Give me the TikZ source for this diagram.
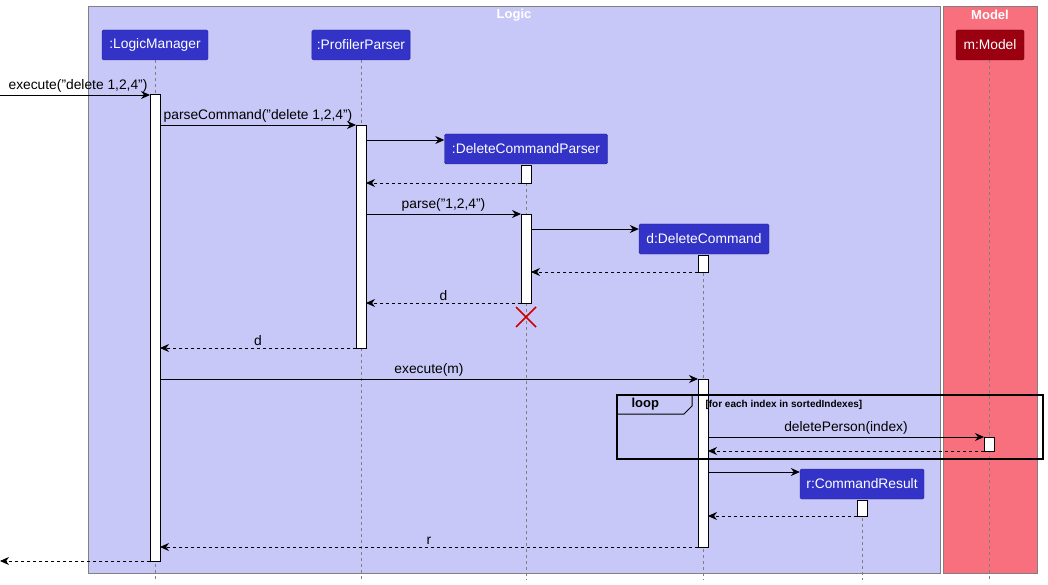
\documentclass[tikz,border=0pt]{standalone}
\usepackage{fontspec}
\setmainfont{Liberation Sans}
\usetikzlibrary{arrows.meta,calc}
\definecolor{logicbg}{HTML}{C8C8F8}
\definecolor{modelbg}{HTML}{F8707E}
\definecolor{part}{HTML}{3333C8}
\definecolor{partm}{HTML}{9A0010}
\begin{document}
\begin{tikzpicture}[x=1pt,y=-1pt,font=\fontsize{13.8}{15}\selectfont,
 part/.style={draw=part!70!black,fill=part,text=white,rounded corners=1.5pt,minimum height=30pt,inner xsep=5pt},
 life/.style={gray,dashed,line width=0.8pt},
 bar/.style={draw=black,fill=white,line width=0.8pt},
 msg/.style={-{Stealth[length=9pt,width=8pt]},line width=0.8pt},
 ret/.style={-{Stealth[length=9pt,width=8pt]},line width=0.8pt,dashed},
 lbl/.style={above,inner sep=2pt}]
\useasboundingbox (0,0) rectangle (1048,585);
\fill[logicbg] (88,6) rectangle (940,573);
\draw[gray] (88,6) rectangle (940,573);
\fill[modelbg] (943,6) rectangle (1037,573);
\draw[gray] (943,6) rectangle (1037,573);
\node[text=white,font=\fontsize{13}{15}\selectfont\bfseries] (tl) at (514,15) {Logic};
\node[text=white,font=\fontsize{13}{15}\selectfont\bfseries] (tm) at (990,15) {Model};
% lifelines
\draw[life] (155,60) -- (155,580);
\draw[life] (361,60) -- (361,580);
\draw[life] (526,165) -- (526,580);
\draw[life] (703,255) -- (703,580);
\draw[life] (989,60) -- (989,580);
\draw[life] (862,500) -- (862,580);
% participants
\node[part,minimum width=106pt] (lm) at (155,45) {:LogicManager};
\node[part,minimum width=98pt] (pp) at (361,45) {:ProfilerParser};
\node[part,minimum width=163pt] (dcp) at (526,149) {:DeleteCommandParser};
\node[part,minimum width=130pt] (dc) at (704,239) {d:DeleteCommand};
\node[part,fill=partm,draw=partm!70!black,minimum width=68pt] (mm) at (990,45) {m:Model};
\node[part,minimum width=124pt] (cr) at (862,484) {r:CommandResult};
% bars
\draw[bar] (150,94) rectangle (160,561);
\draw[bar] (356,125) rectangle (366,348);
\draw[bar] (521,165) rectangle (531,183);
\draw[bar] (521,214) rectangle (531,303);
\draw[bar] (698,255) rectangle (708,272);
\draw[bar] (698,379) rectangle (708,547);
\draw[bar] (857,500) rectangle (867,516);
% loop frame
\draw[black,line width=1.6pt] (617,395) rectangle (1043,459);
\draw[black,line width=1pt] (617,414) -- (684,414) -- (692,406) -- (692,395);
\node[font=\fontsize{13}{15}\selectfont\bfseries,anchor=west] (lp) at (628,404) {loop};
\node[font=\fontsize{10}{12}\selectfont\bfseries,anchor=west] (gd) at (702,405) {[for each index in sortedIndexes]};
\draw[bar] (984,437) rectangle (994,451);
% coords
\coordinate (in) at (0,95);
\coordinate (out) at (0,561);
\coordinate (lm1) at (150,95);
\coordinate (lm2) at (160,125);
\coordinate (pp1) at (356,125);
\coordinate (pp2) at (366,140);
\coordinate (pp3) at (366,183);
\coordinate (dcp1) at (521,183);
\coordinate (pp4) at (366,214);
\coordinate (dcp2) at (521,214);
\coordinate (dcp3) at (531,229);
\coordinate (dcp4) at (531,272);
\coordinate (dc1) at (698,272);
\coordinate (dcp5) at (521,303);
\coordinate (pp5) at (366,303);
\coordinate (pp6) at (356,348);
\coordinate (lm3) at (160,348);
\coordinate (lm4) at (160,379);
\coordinate (dc2) at (698,379);
\coordinate (dc3) at (708,437);
\coordinate (m1) at (984,437);
\coordinate (m2) at (984,451);
\coordinate (dc4) at (708,451);
\coordinate (dc5) at (708,472);
\coordinate (dc6) at (708,516);
\coordinate (cr1) at (857,516);
\coordinate (dc7) at (698,547);
\coordinate (lm5) at (160,547);
\coordinate (lm6) at (150,561);
\draw[msg] (in) -- node[lbl,pos=0.52] {execute("delete 1,2,4")} (lm1);
\draw[msg] (lm2) -- node[lbl] {parseCommand("delete 1,2,4")} (pp1);
\draw[msg] (pp2) -- (pp2 -| dcp.west);
\draw[ret] (dcp1) -- (pp3);
\draw[msg] (pp4) -- node[lbl] {parse("1,2,4")} (dcp2);
\draw[msg] (dcp3) -- (dcp3 -| dc.west);
\draw[ret] (dc1) -- (dcp4);
\draw[ret] (dcp5) -- node[lbl] {d} (pp5);
\draw[ret] (pp6) -- node[lbl] {d} (lm3);
\draw[msg] (lm4) -- node[lbl] {execute(m)} (dc2);
\draw[msg] (dc3) -- node[lbl] {deletePerson(index)} (m1);
\draw[ret] (m2) -- (dc4);
\draw[msg] (dc5) -- (dc5 -| cr.west);
\draw[ret] (cr1) -- (dc6);
\draw[ret] (dc7) -- node[lbl] {r} (lm5);
\draw[ret] (lm6) -- (out);
% destroy
\coordinate (x) at (526,317);
\draw[red!80!black,line width=1.5pt] ($(x)+(-10,-10)$) -- ($(x)+(10,10)$) ($(x)+(-10,10)$) -- ($(x)+(10,-10)$);
\end{tikzpicture}
\end{document}
